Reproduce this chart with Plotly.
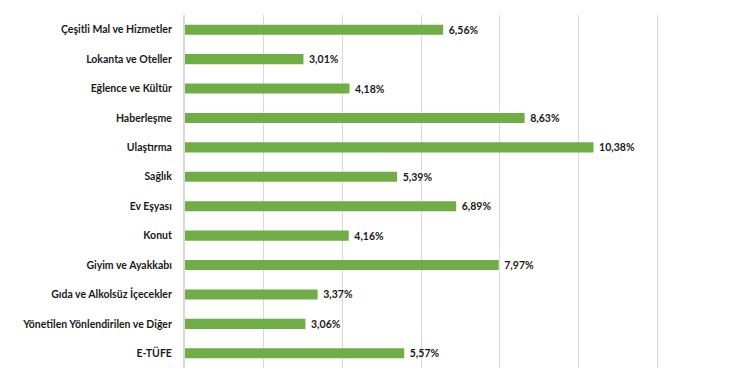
import plotly.graph_objects as go

categories = [
    "Çeşitli Mal ve Hizmetler",
    "Lokanta ve Oteller",
    "Eğlence ve Kültür",
    "Haberleşme",
    "Ulaştırma",
    "Sağlık",
    "Ev Eşyası",
    "Konut",
    "Giyim ve Ayakkabı",
    "Gıda ve Alkolsüz İçecekler",
    "Yönetilen Yönlendirilen ve Diğer",
    "E-TÜFE",
]
values = [6.56, 3.01, 4.18, 8.63, 10.38, 5.39, 6.89, 4.16, 7.97, 3.37, 3.06, 5.57]
value_labels = [f"{v:.2f}%".replace(".", ",") for v in values]
grid_ticks = [2, 4, 6, 8, 10, 12]

FONT = "Lato"

fig = go.Figure(
    go.Bar(
        x=values,
        y=categories,
        orientation="h",
        marker=dict(color="#70AD47", line=dict(width=0)),
        width=0.34,
        text=value_labels,
        texttemplate="\u00a0%{text}",
        textposition="outside",
        constraintext="none",
        textfont=dict(family=FONT, size=10.5, color="#1a1a1a", weight="bold"),
        cliponaxis=False,
    )
)

fig.update_layout(
    width=728,
    height=380,
    margin=dict(l=177, r=0, t=7, b=20),
    plot_bgcolor="white",
    paper_bgcolor="white",
    showlegend=False,
    font=dict(family=FONT, size=10.5, color="#1a1a1a"),
)
fig.update_xaxes(
    range=[0, 14],
    tickvals=grid_ticks,
    showticklabels=False,
    showgrid=True,
    gridcolor="#d9d9d9",
    gridwidth=1,
    zeroline=False,
    showline=False,
    ticks="",
)
fig.update_yaxes(
    categoryorder="array",
    categoryarray=categories[::-1],
    showgrid=False,
    zeroline=False,
    showline=True,
    linecolor="#d9d9d9",
    linewidth=2,
    ticks="",
    ticklabelstandoff=9,
    tickfont=dict(family=FONT, size=10.5, color="#1a1a1a", weight="bold"),
)

fig.write_html("out.html")
